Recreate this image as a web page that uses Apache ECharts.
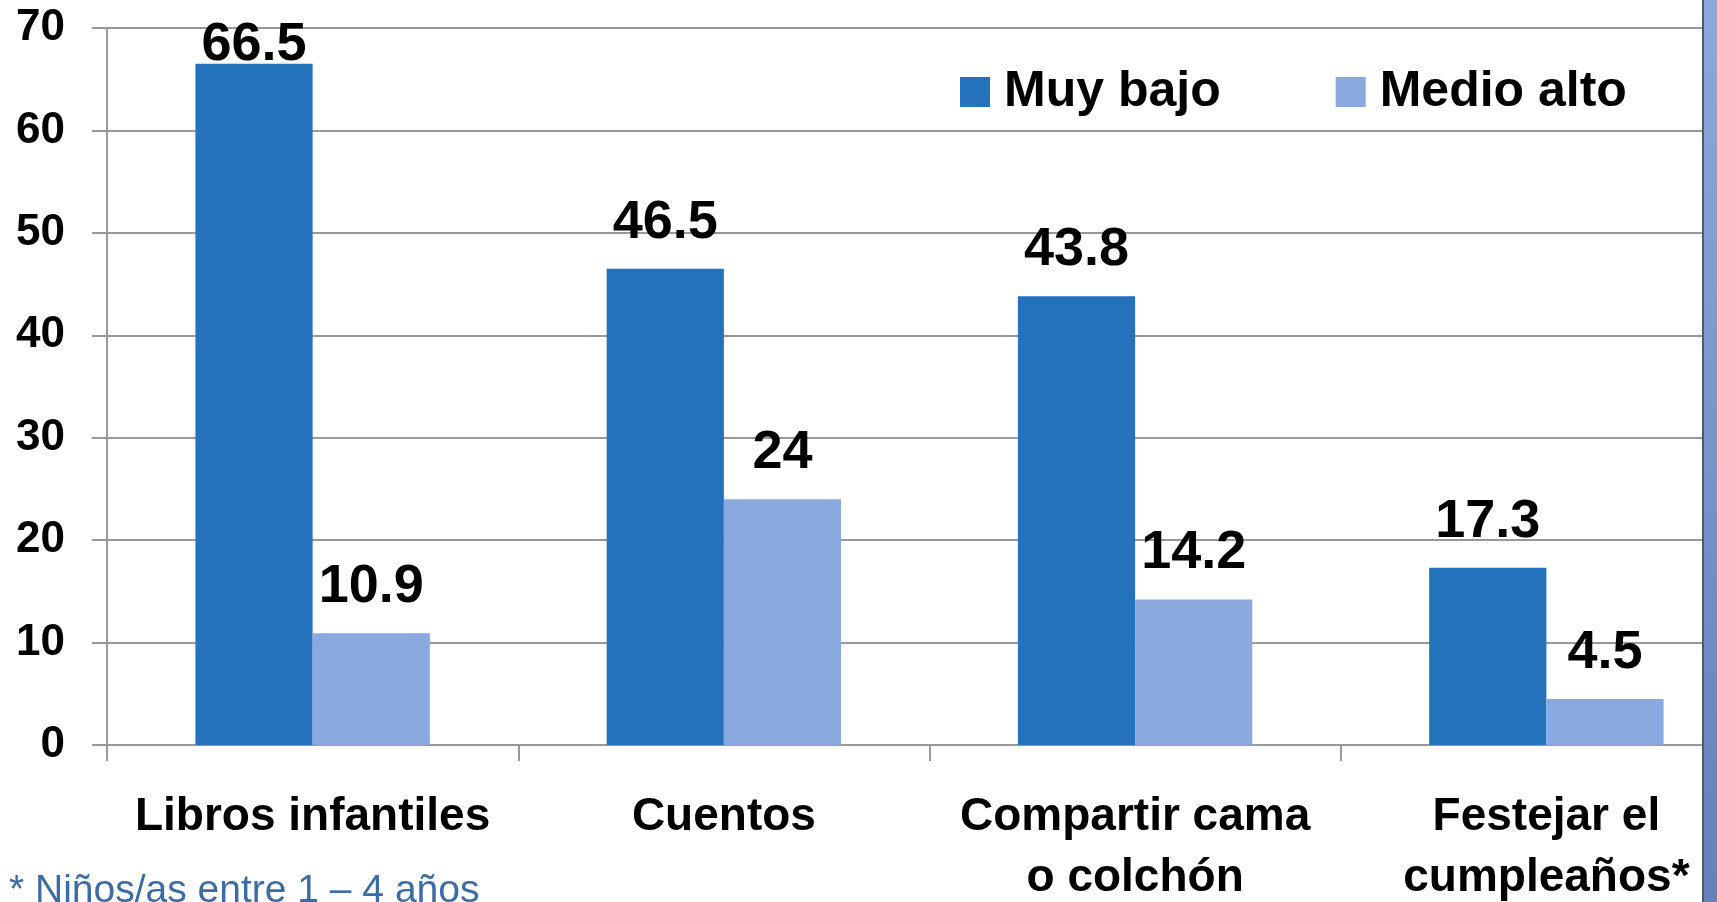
<!DOCTYPE html>
<html><head><meta charset="utf-8">
<script src="https://cdn.jsdelivr.net/npm/echarts@6/dist/echarts.min.js"></script>
<style>html,body{margin:0;padding:0;background:#fff;}#c{width:1717px;height:902px;}</style>
</head><body><div id="c"></div>
<script>
const categories = ['Libros infantiles', 'Cuentos', 'Compartir cama\no colchón', 'Festejar el\ncumpleaños*'];
const seriesNames = ['Muy bajo', 'Medio alto'];
const muyBajo = [66.5, 46.5, 43.8, 17.3];
const medioAlto = [10.9, 24, 14.2, 4.5];
const yTicks = [0, 10, 20, 30, 40, 50, 60, 70];
const footnote = '* Niños/as entre 1 – 4 años';

const FONT = '"Liberation Sans", Arial, sans-serif';
const colors = ['#2471bc', '#89a9df'];

const chart = echarts.init(document.getElementById('c'), null, {renderer: 'canvas'});

function mkSeries(name, vals, color, idx) {
  return {
    name: name, type: 'bar', barGap: '0%', barCategoryGap: '43%',
    itemStyle: {color: color},
    data: vals.map((v, i) => {
      const d = {value: v};
      // top-most label is squeezed down in the original
      if (v === Math.max(...muyBajo) && idx === 0) d.label = {distance: -8};
      return d;
    }),
    label: {
      show: true, position: 'top', distance: 19,
      fontFamily: FONT, fontWeight: 'bold', fontSize: 54, lineHeight: 54, color: '#000'
    },
    z: 3
  };
}

chart.setOption({
  animation: false,
  backgroundColor: '#fff',
  grid: {left: 107, width: 1645, top: 28, bottom: 157, containLabel: false, outerBoundsMode: 'none'},
  legend: {
    data: seriesNames, left: 955, top: 61, icon: 'rect', itemWidth: 30, itemHeight: 30,
    itemGap: 115,
    textStyle: {fontFamily: FONT, fontWeight: 'bold', fontSize: 50, lineHeight: 52, color: '#000', padding: [0, 0, 0, 9]}
  },
  xAxis: {
    type: 'category', data: categories,
    axisLine: {lineStyle: {color: '#999', width: 2}},
    axisTick: {show: true, length: 16, lineStyle: {color: '#999', width: 2}},
    axisLabel: {
      interval: 0, margin: 42, fontFamily: FONT, fontWeight: 'bold', fontSize: 46, lineHeight: 61, color: '#000'
    }
  },
  yAxis: {
    type: 'value', min: yTicks[0], max: yTicks[yTicks.length - 1], interval: 10,
    axisLine: {show: true, lineStyle: {color: '#999', width: 2}},
    axisTick: {show: true, length: 15, lineStyle: {color: '#999', width: 2}},
    splitLine: {show: true, lineStyle: {color: '#999', width: 2}},
    axisLabel: {margin: 42, fontFamily: FONT, fontWeight: 'bold', fontSize: 44, color: '#000'}
  },
  series: [mkSeries(seriesNames[0], muyBajo, colors[0], 0), mkSeries(seriesNames[1], medioAlto, colors[1], 1)],
  graphic: [
    {type: 'text', left: 9, top: 872, z: 10,
     style: {text: footnote, font: '39px "Liberation Sans", Arial, sans-serif', fill: '#3c6ca6'}},
    {type: 'rect', left: 1703, top: 0, z: 20,
     shape: {x: 0, y: 0, width: 14, height: 902},
     style: {fill: new echarts.graphic.LinearGradient(0, 0, 0, 1, [
       {offset: 0, color: '#8aaadd'}, {offset: 1, color: '#6282b8'}])}},
    {type: 'rect', left: 1702, top: 0, z: 21,
     shape: {x: 0, y: 0, width: 2, height: 902},
     style: {fill: '#505a68'}}
  ]
});
</script></body></html>
